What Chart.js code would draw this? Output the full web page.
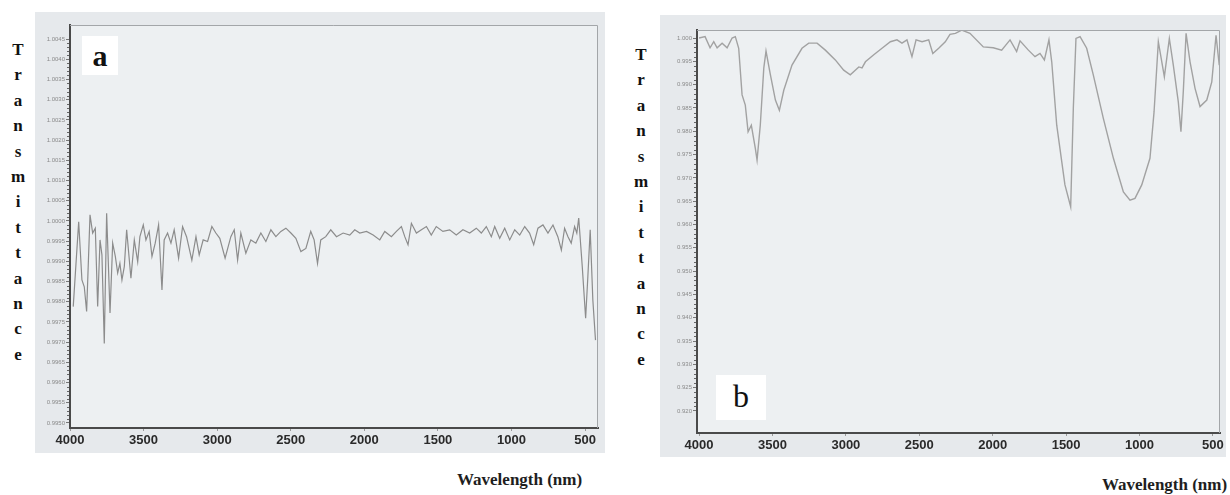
<!DOCTYPE html>
<html>
<head>
<meta charset="utf-8">
<script src="https://cdn.jsdelivr.net/npm/chart.js@4"></script>
<style>
  body { margin:0; background:#fff; width:1230px; height:495px; position:relative; overflow:hidden; }
  canvas { position:absolute; }
  .ylab { position:absolute; width:20px; text-align:center; font:bold 17px "Liberation Serif", serif; line-height:25.4px; color:#111; }
  .xlab { position:absolute; font:bold 17px "Liberation Serif", serif; color:#1e1e1e; white-space:nowrap; line-height:20px; }
  .tag { position:absolute; background:#fff; font-family:"Liberation Serif", serif; color:#111; text-align:center; }
</style>
</head>
<body>
<canvas id="chartA" width="570" height="441" style="left:35px;top:12px"></canvas>
<canvas id="chartB" width="566" height="442" style="left:660px;top:15px"></canvas>

<div class="ylab" style="left:8px;top:37px">T<br>r<br>a<br>n<br>s<br>m<br>i<br>t<br>t<br>a<br>n<br>c<br>e</div>
<div class="ylab" style="left:631px;top:42px">T<br>r<br>a<br>n<br>s<br>m<br>i<br>t<br>t<br>a<br>n<br>c<br>e</div>

<div class="tag" style="left:82px;top:36px;width:36px;height:39px;font-weight:bold;font-size:30px;line-height:39px">a</div>
<div class="tag" style="left:716px;top:375px;width:50px;height:45px;font-size:32px;line-height:43px">b</div>

<div class="xlab" style="left:457px;top:470px">Wavelength (nm)</div>
<div class="xlab" style="left:1102px;top:475px">Wavelength (nm)</div>

<script>
// tick labels
var xTicks = [4000, 3500, 3000, 2500, 2000, 1500, 1000, 500];
var aYTicks = [0.9950, 0.9955, 0.9960, 0.9965, 0.9970, 0.9975, 0.9980, 0.9985, 0.9990, 0.9995,
               1.0000, 1.0005, 1.0010, 1.0015, 1.0020, 1.0025, 1.0030, 1.0035, 1.0040, 1.0045];
var bYTicks = [0.920, 0.925, 0.930, 0.935, 0.940, 0.945, 0.950, 0.955, 0.960, 0.965,
               0.970, 0.975, 0.980, 0.985, 0.990, 0.995, 1.000];

// spectrum a
var aWave = [3978, 3941, 3919, 3903, 3887, 3864, 3846, 3828, 3812, 3796, 3783, 3767, 3751, 3728, 3710,
             3692, 3676, 3661, 3647, 3631, 3615, 3586, 3563, 3540, 3525, 3502, 3484, 3462, 3443, 3421,
             3398, 3375, 3360, 3337, 3314, 3292, 3262, 3235, 3208, 3172, 3144, 3122, 3095, 3065, 3036,
             3009, 2982, 2946, 2907, 2884, 2861, 2839, 2805, 2771, 2737, 2703, 2669, 2635, 2601, 2567,
             2533, 2499, 2465, 2431, 2397, 2364, 2341, 2318, 2296, 2262, 2228, 2189, 2144, 2099, 2065,
             2031, 1985, 1940, 1895, 1861, 1816, 1782, 1748, 1725, 1703, 1680, 1646, 1612, 1578, 1545,
             1511, 1466, 1420, 1375, 1330, 1284, 1239, 1205, 1171, 1137, 1114, 1080, 1046, 1012, 978,
             944, 910, 877, 849, 820, 786, 752, 718, 685, 661, 639, 616, 594, 571, 556,
             543, 519, 496, 481, 465, 447, 429];
var aTrans = [0.99788, 0.99998, 0.99854, 0.99837, 0.99776, 1.00015, 0.99970, 0.99982, 0.99788, 0.99953, 0.99916, 0.99697, 1.00019, 0.99772, 0.99945,
              0.99912, 0.99871, 0.99895, 0.99854, 0.99887, 0.99978, 0.99858, 0.99953, 0.99899, 0.99961, 0.99990, 0.99953, 0.99974, 0.99912, 0.99945,
              0.99990, 0.99829, 0.99953, 0.99970, 0.99945, 0.99978, 0.99908, 0.99986, 0.99961, 0.99903, 0.99961, 0.99916, 0.99953, 0.99949, 0.99986,
              0.99970, 0.99957, 0.99908, 0.99961, 0.99978, 0.99903, 0.99970, 0.99920, 0.99953, 0.99945, 0.99970, 0.99949, 0.99978, 0.99961, 0.99974,
              0.99982, 0.99970, 0.99957, 0.99924, 0.99932, 0.99974, 0.99953, 0.99895, 0.99953, 0.99961, 0.99978, 0.99961, 0.99970, 0.99965, 0.99978,
              0.99970, 0.99974, 0.99965, 0.99953, 0.99974, 0.99961, 0.99974, 0.99986, 0.99961, 0.99941, 0.99994, 0.99970, 0.99978, 0.99986, 0.99965,
              0.99986, 0.99974, 0.99978, 0.99965, 0.99978, 0.99970, 0.99982, 0.99970, 0.99986, 0.99961, 0.99986, 0.99957, 0.99982, 0.99953, 0.99978,
              0.99965, 0.99986, 0.99970, 0.99941, 0.99982, 0.99990, 0.99970, 0.99990, 0.99961, 0.99928, 0.99982, 0.99961, 0.99945, 0.99986, 0.99970,
              1.00007, 0.99887, 0.99759, 0.99862, 0.99978, 0.99804, 0.99705];

// spectrum b
var bWave = [4000, 3959, 3925, 3900, 3877, 3843, 3809, 3775, 3753, 3730, 3707, 3685, 3666, 3644, 3617,
             3605, 3583, 3559, 3544, 3514, 3480, 3453, 3423, 3367, 3299, 3253, 3196, 3140, 3072, 3015,
             2970, 2936, 2912, 2890, 2867, 2810, 2754, 2697, 2652, 2618, 2584, 2550, 2522, 2481, 2436,
             2408, 2368, 2323, 2291, 2254, 2211, 2155, 2064, 1996, 1939, 1882, 1837, 1814, 1757, 1712,
             1678, 1648, 1617, 1598, 1564, 1508, 1469, 1451, 1433, 1405, 1360, 1315, 1247, 1178, 1110,
             1065, 1031, 985, 929, 901, 872, 831, 797, 770, 736, 718, 702, 683, 656, 622,
             588, 542, 508, 479, 457];
var bTrans = [1.0000, 1.0003, 0.9979, 0.9992, 0.9979, 0.9989, 0.9979, 1.0000, 1.0003, 0.9978, 0.9878, 0.9856, 0.9799, 0.9813, 0.9764,
              0.9738, 0.9813, 0.9936, 0.9972, 0.9921, 0.9867, 0.9845, 0.9888, 0.9942, 0.9978, 0.9989, 0.9989, 0.9974, 0.9953, 0.9931,
              0.9921, 0.9931, 0.9938, 0.9936, 0.9949, 0.9964, 0.9978, 0.9992, 0.9996, 0.9989, 0.9996, 0.9960, 0.9996, 0.9992, 0.9996,
              0.9967, 0.9978, 0.9992, 1.0008, 1.0010, 1.0017, 1.0010, 0.9981, 0.9979, 0.9974, 0.9996, 0.9971, 0.9994, 0.9974, 0.9960,
              0.9967, 0.9953, 0.9996, 0.9949, 0.9813, 0.9685, 0.9638, 0.9849, 0.9999, 1.0003, 0.9978, 0.9921, 0.9828, 0.9742, 0.9670,
              0.9652, 0.9656, 0.9685, 0.9742, 0.9842, 0.9992, 0.9917, 0.9999, 0.9942, 0.9863, 0.9799, 0.9885, 1.0010, 0.9949, 0.9892,
              0.9853, 0.9867, 0.9906, 1.0006, 0.9942];

// grey backgrounds, top/right frame and small minor ticks on the y axis
var framePlugin = {
    id: 'frame',
    beforeDraw: function(chart) {
        var c = chart.ctx, a = chart.chartArea;
        c.save();
        c.fillStyle = '#e6e9ec';
        c.fillRect(0, 0, chart.width, chart.height);
        c.fillStyle = '#edf0f2';
        c.fillRect(a.left, a.top, a.right - a.left, a.bottom - a.top);
        c.restore();
    },
    afterDraw: function(chart) {
        var c = chart.ctx, a = chart.chartArea, y = chart.scales.y;
        c.save();
        c.strokeStyle = '#a3a6a9';
        c.lineWidth = 1;
        c.beginPath();
        c.moveTo(a.left, a.top + 0.5);
        c.lineTo(a.right - 0.5, a.top + 0.5);
        c.lineTo(a.right - 0.5, a.bottom);
        c.stroke();
        c.strokeStyle = '#666';
        c.beginPath();
        var t = y.ticks;
        for (var i = 0; i < t.length - 1; i++) {
            var p0 = y.getPixelForValue(t[i].value), p1 = y.getPixelForValue(t[i + 1].value);
            for (var k = 1; k < 5; k++) {
                var py = Math.round(p0 + (p1 - p0) * k / 5) + 0.5;
                c.moveTo(a.left - 3, py);
                c.lineTo(a.left - 1, py);
            }
        }
        c.stroke();
        c.restore();
    }
};

function makeChart(id, wave, trans, yTicks, cfg) {
    var pts = [];
    for (var i = 0; i < wave.length; i++) pts.push({ x: wave[i], y: trans[i] });

    return new Chart(document.getElementById(id).getContext('2d'), {
        type: 'line',
        data: {
            datasets: [{
                data: pts,
                borderColor: cfg.lineColor,
                borderWidth: cfg.lineWidth,
                pointRadius: 0,
                tension: 0,
                fill: false
            }]
        },
        options: {
            responsive: false,
            animation: false,
            layout: { padding: cfg.padding },
            plugins: { legend: { display: false }, tooltip: { enabled: false } },
            scales: {
                x: {
                    type: 'linear',
                    reverse: true,
                    min: cfg.xMin,
                    max: cfg.xMax,
                    afterBuildTicks: function(s) { s.ticks = xTicks.map(function(v) { return { value: v }; }); },
                    afterFit: function(s) { s.height = cfg.xHeight; },
                    border: { display: true, color: '#4a4a4a', width: 2 },
                    grid: { drawOnChartArea: false, drawTicks: true, tickLength: 3, color: '#999' },
                    ticks: {
                        padding: 2,
                        maxRotation: 0,
                        color: '#2a2a2a',
                        font: { family: 'Liberation Sans', size: 13, weight: 'bold' },
                        callback: function(v) { return String(v); }
                    }
                },
                y: {
                    min: cfg.yMin,
                    max: cfg.yMax,
                    afterBuildTicks: function(s) { s.ticks = yTicks.map(function(v) { return { value: v }; }); },
                    afterFit: function(s) { s.width = cfg.yWidth; },
                    border: { display: true, color: '#4a4a4a', width: 2 },
                    grid: { drawOnChartArea: false, drawTicks: true, tickLength: 4, color: '#777' },
                    ticks: {
                        padding: 1,
                        color: '#8a8a8a',
                        font: { family: 'Liberation Sans', size: 6 },
                        callback: function(v) { return v.toFixed(cfg.digits); }
                    }
                }
            }
        },
        plugins: [framePlugin]
    });
}

var chartA = makeChart('chartA', aWave, aTrans, aYTicks, {
    xMin: 412, xMax: 4000, yMin: 0.994876, yMax: 1.004847,
    yWidth: 35, xHeight: 25, digits: 4,
    padding: { top: 13, right: 7, left: 0, bottom: 0 },
    lineColor: '#8c8c8c', lineWidth: 1.2
});

var chartB = makeChart('chartB', bWave, bTrans, bYTicks, {
    xMin: 452, xMax: 4014, yMin: 0.91528, yMax: 1.00172,
    yWidth: 37, xHeight: 24, digits: 3,
    padding: { top: 15, right: 6, left: 0, bottom: 0 },
    lineColor: '#a2a2a2', lineWidth: 1.4
});
</script>
</body>
</html>
